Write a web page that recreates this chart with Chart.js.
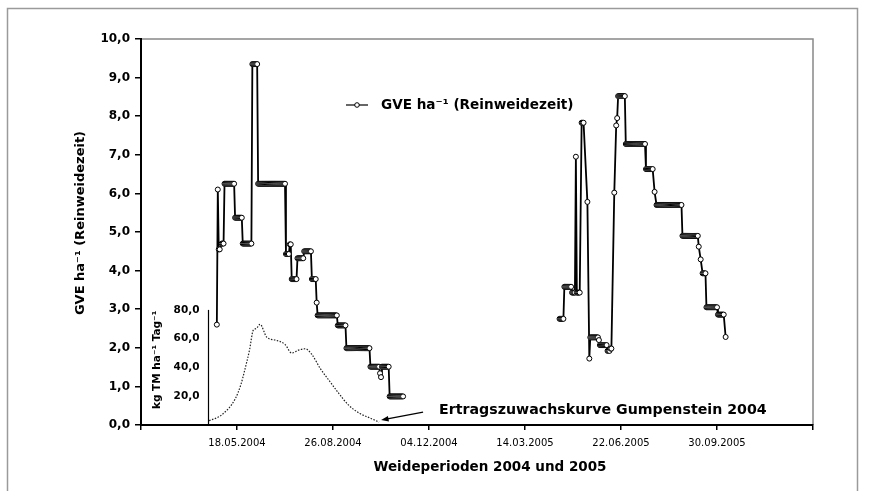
<!DOCTYPE html>
<html>
<head>
<meta charset="utf-8">
<title>GVE ha-1 Reinweidezeit</title>
<script src="https://cdn.jsdelivr.net/npm/chart.js@4.4.1/dist/chart.umd.min.js"></script>
<style>
  html, body { margin: 0; padding: 0; background: #fff; }
  canvas { display: block; }
</style>
</head>
<body>
<canvas id="chart" width="872" height="491"></canvas>
<script>
// x = Tage ab 08.02.2004 (linkes Ende der Achse), Teilung alle 100 Tage
const xTickLabels = ['', '18.05.2004', '26.08.2004', '04.12.2004', '14.03.2005', '22.06.2005', '30.09.2005', ''];

// GVE ha-1 (Reinweidezeit), ein Wert pro Tag, null = kein Wert
const start2004 = 79;
const gve2004 = [
  2.6, 6.1, 4.55, 4.55, null, 4.7, 4.7, 4.7,
  6.25, 6.25, 6.25, 6.25, 6.25, 6.25, 6.25, 6.25, 6.25, 6.25, 6.25,
  5.37, 5.37, 5.37, 5.37, 5.37, 5.37, 5.37, 5.37,
  4.7, 4.7, 4.7, 4.7, 4.7, 4.7, 4.7, 4.7, 4.7, 4.7,
  9.35, 9.35, 9.35, 9.35, 9.35, 9.35,
  6.25, 6.25, 6.25, 6.25, 6.25, 6.25, 6.25, 6.25, 6.25, 6.25,
  6.25, 6.25, 6.25, 6.25, 6.25, 6.25, 6.25, 6.25, 6.25, 6.25,
  6.25, 6.25, 6.25, 6.25, 6.25, 6.25, 6.25, 6.25, 6.25,
  4.43, 4.43, 4.43, 4.43,
  4.68, 4.68,
  3.78, 3.78, 3.78, 3.78, 3.78, 3.78,
  4.32, 4.32, 4.32, 4.32, 4.32, 4.32, 4.32,
  4.5, 4.5, 4.5, 4.5, 4.5, 4.5, 4.5, 4.5,
  3.78, 3.78, 3.78, 3.78, 3.78,
  3.17,
  2.84, 2.84, 2.84, 2.84, 2.84, 2.84, 2.84, 2.84, 2.84, 2.84,
  2.84, 2.84, 2.84, 2.84, 2.84, 2.84, 2.84, 2.84, 2.84, 2.84, 2.84,
  2.58, 2.58, 2.58, 2.58, 2.58, 2.58, 2.58, 2.58, 2.58,
  1.99, 1.99, 1.99, 1.99, 1.99, 1.99, 1.99, 1.99, 1.99, 1.99,
  1.99, 1.99, 1.99, 1.99, 1.99, 1.99, 1.99, 1.99, 1.99, 1.99,
  1.99, 1.99, 1.99, 1.99, 1.99,
  1.51, 1.51, 1.51, 1.51, 1.51, 1.51, 1.51, 1.51, 1.51, 1.51,
  1.34, 1.24,
  1.51, 1.51, 1.51, 1.51, 1.51, 1.51, 1.51, 1.51,
  0.74, 0.74, 0.74, 0.74, 0.74, 0.74, 0.74, 0.74, 0.74, 0.74,
  0.74, 0.74, 0.74, 0.74, 0.74
];

const start2005 = 436;
const gve2005 = [
  2.75, 2.75, 2.75, 2.75, 2.75,
  3.58, 3.58, 3.58, 3.58, 3.58, 3.58, 3.58, 3.58,
  3.43, 3.43, 3.43, 3.43,
  6.95,
  3.43, 3.43, 3.43, 3.43,
  null,
  7.83, 7.83, 7.83,
  null, null, null,
  5.78,
  null,
  1.72,
  2.27, 2.27, 2.27, 2.27, 2.27, 2.27, 2.27, 2.27, 2.27,
  2.2,
  2.07, 2.07, 2.07, 2.07, 2.07, 2.07, 2.07, 2.07,
  1.92, 1.92, 1.92,
  1.98, 1.98,
  null, null,
  6.02,
  null,
  7.76, 7.95,
  8.52, 8.52, 8.52, 8.52, 8.52, 8.52, 8.52, 8.52,
  7.28, 7.28, 7.28, 7.28, 7.28, 7.28, 7.28, 7.28, 7.28, 7.28,
  7.28, 7.28, 7.28, 7.28, 7.28, 7.28, 7.28, 7.28, 7.28, 7.28, 7.28,
  6.63, 6.63, 6.63, 6.63, 6.63, 6.63, 6.63, 6.63,
  null,
  6.04,
  null,
  5.7, 5.7, 5.7, 5.7, 5.7, 5.7, 5.7, 5.7, 5.7, 5.7,
  5.7, 5.7, 5.7, 5.7, 5.7, 5.7, 5.7, 5.7, 5.7, 5.7,
  5.7, 5.7, 5.7, 5.7, 5.7, 5.7, 5.7,
  4.9, 4.9, 4.9, 4.9, 4.9, 4.9, 4.9, 4.9, 4.9, 4.9,
  4.9, 4.9, 4.9, 4.9, 4.9, 4.9, 4.9,
  4.62,
  null,
  4.29,
  null,
  3.93, 3.93, 3.93, 3.93,
  3.05, 3.05, 3.05, 3.05, 3.05, 3.05, 3.05, 3.05, 3.05, 3.05, 3.05, 3.05,
  2.86, 2.86, 2.86, 2.86, 2.86, 2.86, 2.86,
  null,
  2.28
];

// Ertragszuwachskurve Gumpenstein 2004 (kg TM ha-1 Tag-1)
const insetDays = [71, 84, 98, 104, 108, 113, 117, 120, 124, 131, 140, 150, 157, 164, 171, 178, 187, 197, 206, 216, 228, 238, 248];
const insetKg = [3, 7, 18, 28, 38, 52, 66, 67, 70, 61, 59, 56, 50, 52, 53, 49, 39, 30, 22, 14, 8, 5, 2];
const insetTicks = [20, 40, 60, 80];
const insetAxisDay = 70;

const FONT = '"DejaVu Sans", sans-serif';
Chart.defaults.font.family = FONT;
Chart.defaults.color = '#000';

function toPoints(start, values) {
    const pts = [];
    values.forEach((v, i) => {
        if (v !== null) pts.push({ x: start + i, y: v });
    });
    return pts;
}

function comma(v) {
    return v.toFixed(1).replace('.', ',');
}

// Rahmen, Legende, Achsentitel, kleine Achse und Pfeil
const decorPlugin = {
    id: 'decor',
    beforeDraw(chart) {
        const { ctx, chartArea: a } = chart;
        ctx.save();
        ctx.fillStyle = '#fff';
        ctx.fillRect(0, 0, chart.width, chart.height);
        ctx.strokeStyle = '#9a9a9a';
        ctx.lineWidth = 1.5;
        ctx.strokeRect(7.5, 8.5, 850, 520);
        ctx.strokeStyle = '#888';
        ctx.beginPath();
        ctx.moveTo(a.left, a.top);
        ctx.lineTo(a.right, a.top);
        ctx.lineTo(a.right, a.bottom);
        ctx.stroke();
        ctx.restore();
    },
    afterDraw(chart) {
        const { ctx, chartArea: a } = chart;
        const x = chart.scales.x;
        const y2 = chart.scales.y2;
        ctx.save();
        ctx.fillStyle = '#000';
        ctx.strokeStyle = '#000';

        // Achsentitel
        ctx.font = 'bold 13px ' + FONT;
        ctx.textAlign = 'center';
        ctx.textBaseline = 'middle';
        ctx.save();
        ctx.translate(81, 223);
        ctx.rotate(-Math.PI / 2);
        ctx.fillText('GVE ha⁻¹ (Reinweidezeit)', 0, 0);
        ctx.restore();
        ctx.font = 'bold 13.5px ' + FONT;
        ctx.fillText('Weideperioden 2004 und 2005', 490, 467);

        // Legende
        const lx = a.left + 205, ly = a.top + 66;
        ctx.lineWidth = 1.2;
        ctx.beginPath();
        ctx.moveTo(lx, ly);
        ctx.lineTo(lx + 22, ly);
        ctx.stroke();
        ctx.beginPath();
        ctx.arc(lx + 11, ly, 2.3, 0, Math.PI * 2);
        ctx.fillStyle = '#fff';
        ctx.fill();
        ctx.lineWidth = 1;
        ctx.stroke();
        ctx.fillStyle = '#000';
        ctx.font = 'bold 13.6px ' + FONT;
        ctx.textAlign = 'left';
        ctx.fillText('GVE ha⁻¹ (Reinweidezeit)', lx + 35, ly);

        // kleine Achse der Ertragskurve
        const ax = Math.round(x.getPixelForValue(insetAxisDay)) + 0.5;
        const top = y2.getPixelForValue(insetTicks[insetTicks.length - 1]);
        ctx.lineWidth = 1.2;
        ctx.beginPath();
        ctx.moveTo(ax, top);
        ctx.lineTo(ax, y2.getPixelForValue(0));
        ctx.stroke();
        ctx.font = 'bold 10.5px ' + FONT;
        ctx.textAlign = 'right';
        insetTicks.forEach(v => ctx.fillText(comma(v), ax - 9, y2.getPixelForValue(v)));
        ctx.save();
        ctx.translate(ax - 51, top + 50);
        ctx.rotate(-Math.PI / 2);
        ctx.textAlign = 'center';
        ctx.fillText('kg TM ha⁻¹ Tag⁻¹', 0, 0);
        ctx.restore();

        // Pfeil und Beschriftung
        const last = insetDays.length - 1;
        const hx = x.getPixelForValue(insetDays[last]) + 2;
        const hy = y2.getPixelForValue(insetKg[last]) - 2;
        const tx = hx + 42, ty = hy - 8;
        ctx.lineWidth = 1.2;
        ctx.beginPath();
        ctx.moveTo(tx, ty);
        ctx.lineTo(hx + 5, hy - 1);
        ctx.stroke();
        const ang = Math.atan2(ty - hy, tx - hx);
        ctx.beginPath();
        ctx.moveTo(hx, hy);
        ctx.lineTo(hx + 8 * Math.cos(ang - 0.35), hy + 8 * Math.sin(ang - 0.35));
        ctx.lineTo(hx + 8 * Math.cos(ang + 0.35), hy + 8 * Math.sin(ang + 0.35));
        ctx.closePath();
        ctx.fill();
        ctx.font = 'bold 14.2px ' + FONT;
        ctx.textAlign = 'left';
        ctx.fillText('Ertragszuwachskurve Gumpenstein 2004', tx + 16, ty - 2);
        ctx.restore();
    }
};

const gveStyle = {
    borderColor: '#000',
    borderWidth: 1.8,
    pointRadius: 2.5,
    pointBorderWidth: 1,
    pointBackgroundColor: '#fff',
    pointBorderColor: '#000',
    tension: 0,
    yAxisID: 'y'
};

const ctx = document.getElementById('chart').getContext('2d');
const chart = new Chart(ctx, {
    type: 'line',
    data: {
        datasets: [
            {
                label: 'Ertragszuwachskurve Gumpenstein 2004',
                data: insetDays.map((d, i) => ({ x: d, y: insetKg[i] })),
                yAxisID: 'y2',
                borderColor: '#222',
                borderWidth: 1.2,
                borderDash: [1.5, 1.5],
                pointRadius: 0,
                cubicInterpolationMode: 'monotone'
            },
            Object.assign({ label: 'GVE ha-1 (Reinweidezeit) 2004', data: toPoints(start2004, gve2004) }, gveStyle),
            Object.assign({ label: 'GVE ha-1 (Reinweidezeit) 2005', data: toPoints(start2005, gve2005) }, gveStyle)
        ]
    },
    options: {
        responsive: false,
        animation: false,
        devicePixelRatio: 1,
        layout: { padding: { top: 39, right: 59, left: 0, bottom: 0 } },
        plugins: {
            legend: { display: false },
            tooltip: { enabled: false }
        },
        scales: {
            x: {
                type: 'linear',
                min: 0,
                max: 700,
                afterFit: s => { s.height = 66; },
                ticks: {
                    stepSize: 100,
                    autoSkip: false,
                    maxRotation: 0,
                    padding: 7,
                    font: { size: 10 },
                    callback: (v, i) => xTickLabels[i]
                },
                grid: { drawOnChartArea: false, tickLength: 5, color: '#000', lineWidth: 1.5 },
                border: { color: '#000', width: 2 }
            },
            y: {
                min: 0,
                max: 10,
                afterFit: s => { s.width = 141; },
                ticks: {
                    stepSize: 1,
                    padding: 5,
                    font: { size: 12, weight: 'bold' },
                    callback: v => comma(v)
                },
                grid: { drawOnChartArea: false, tickLength: 6, color: '#000', lineWidth: 1.5 },
                border: { color: '#000', width: 2 }
            },
            y2: {
                display: false,
                min: 0,
                max: 268.3
            }
        }
    },
    plugins: [decorPlugin]
});
</script>
</body>
</html>
